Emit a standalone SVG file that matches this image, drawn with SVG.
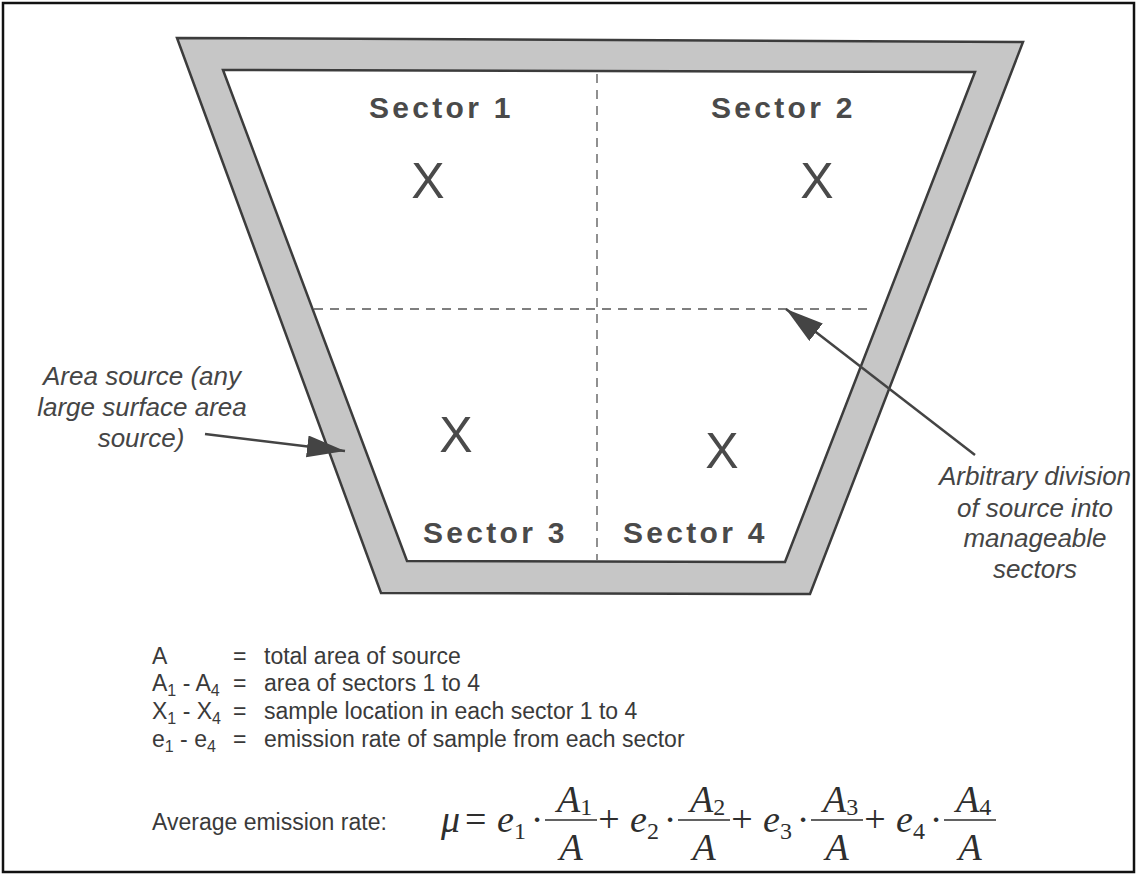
<svg xmlns="http://www.w3.org/2000/svg" width="1138" height="876" viewBox="0 0 1138 876">
<style>
.sec{font-family:"Liberation Sans",Arial,sans-serif;font-weight:bold;font-size:30px;letter-spacing:3.3px;fill:#4a4a4a}
.x{font-family:"Liberation Sans",Arial,sans-serif;font-size:50px;fill:#4a4a4a;text-anchor:middle}
.note{font-family:"Liberation Sans",Arial,sans-serif;font-style:italic;font-size:26px;fill:#454545;text-anchor:middle}
.leg{font-family:"Liberation Sans",Arial,sans-serif;font-size:23px;fill:#3a3a3a}
.sub{font-size:16px}
.m{font-family:"Liberation Serif","Times New Roman",serif;font-size:38px;fill:#2e2e2e}
.mi{font-style:italic}
.dash{stroke:#555;stroke-width:1.3;stroke-dasharray:9 7;fill:none}
.arrow{stroke:#444;stroke-width:2.5;fill:none}
.bar{stroke:#2e2e2e;stroke-width:1.6}
</style>
<defs>
<marker id="head" markerUnits="userSpaceOnUse" markerWidth="40" markerHeight="24" refX="38" refY="11" orient="auto">
<path d="M0,0 L38,11 L0,22 Z" fill="#444"/>
</marker>
</defs>
<rect width="1138" height="876" fill="#fff"/>
<rect id="frame" x="3" y="3" width="1131" height="869" fill="none" stroke="#111" stroke-width="2.5"/>
<g id="source">
<polygon points="177,38 1023,42 810,594 381,593" fill="#c6c6c6" stroke="#3c3c3c" stroke-width="2.5"/>
<polygon points="223,70 975,72 785,562 407,561" fill="#fff" stroke="#3c3c3c" stroke-width="2.5"/>
</g>
<g id="dividers">
<line class="dash" x1="597" y1="74" x2="597" y2="560"/>
<line class="dash" x1="314" y1="309" x2="870" y2="309"/>
</g>
<g id="sector1"><text class="sec" x="369" y="118">Sector 1</text><text class="x" x="428" y="198">X</text></g>
<g id="sector2"><text class="sec" x="711" y="118">Sector 2</text><text class="x" x="817" y="198">X</text></g>
<g id="sector3"><text class="sec" x="423" y="543">Sector 3</text><text class="x" x="456" y="452">X</text></g>
<g id="sector4"><text class="sec" x="623" y="543">Sector 4</text><text class="x" x="722" y="468">X</text></g>
<g id="note-area">
<text class="note" x="142" y="385">Area source (any</text>
<text class="note" x="142" y="416">large surface area</text>
<text class="note" x="141" y="447">source)</text>
</g>
<g id="note-division">
<text class="note" x="1035" y="485">Arbitrary division</text>
<text class="note" x="1035" y="517">of source into</text>
<text class="note" x="1035" y="547">manageable</text>
<text class="note" x="1035" y="578">sectors</text>
</g>
<g id="connectors">
<line class="arrow" x1="205" y1="434" x2="345" y2="451" marker-end="url(#head)"/>
<line class="arrow" x1="975" y1="455" x2="786" y2="309" marker-end="url(#head)"/>
</g>
<g id="legend">
<text class="leg" x="152" y="664">A</text>
<text class="leg" x="233" y="664">=</text>
<text class="leg" x="264" y="664">total area of source</text>
<text class="leg" x="152" y="691">A<tspan class="sub" dy="5">1</tspan><tspan dy="-5"> - A</tspan><tspan class="sub" dy="5">4</tspan></text>
<text class="leg" x="233" y="691">=</text>
<text class="leg" x="264" y="691">area of sectors 1 to 4</text>
<text class="leg" x="152" y="719">X<tspan class="sub" dy="5">1</tspan><tspan dy="-5"> - X</tspan><tspan class="sub" dy="5">4</tspan></text>
<text class="leg" x="233" y="719">=</text>
<text class="leg" x="264" y="719">sample location in each sector 1 to 4</text>
<text class="leg" x="152" y="747">e<tspan class="sub" dy="5">1</tspan><tspan dy="-5"> - e</tspan><tspan class="sub" dy="5">4</tspan></text>
<text class="leg" x="233" y="747">=</text>
<text class="leg" x="264" y="747">emission rate of sample from each sector</text>
<text class="leg" x="152" y="830">Average emission rate:</text>
</g>
<g id="formula">
<text class="m mi" x="441" y="832">μ</text>
<text class="m" x="465" y="832">=</text>
<text class="m mi" x="497" y="832">e<tspan font-style="normal" font-size="24" dy="7">1</tspan></text>
<text class="m" x="537" y="832" text-anchor="middle">·</text>
<line class="bar" x1="545" y1="820" x2="597" y2="820"/>
<text class="m mi" x="557" y="812">A<tspan font-style="normal" font-size="24" dy="3">1</tspan></text>
<text class="m mi" x="571" y="860" text-anchor="middle">A</text>
<text class="m" x="609" y="832" text-anchor="middle">+</text>
<text class="m mi" x="630" y="832">e<tspan font-style="normal" font-size="24" dy="7">2</tspan></text>
<text class="m" x="670" y="832" text-anchor="middle">·</text>
<line class="bar" x1="678" y1="820" x2="730" y2="820"/>
<text class="m mi" x="690" y="812">A<tspan font-style="normal" font-size="24" dy="3">2</tspan></text>
<text class="m mi" x="704" y="860" text-anchor="middle">A</text>
<text class="m" x="742" y="832" text-anchor="middle">+</text>
<text class="m mi" x="763" y="832">e<tspan font-style="normal" font-size="24" dy="7">3</tspan></text>
<text class="m" x="803" y="832" text-anchor="middle">·</text>
<line class="bar" x1="811" y1="820" x2="863" y2="820"/>
<text class="m mi" x="823" y="812">A<tspan font-style="normal" font-size="24" dy="3">3</tspan></text>
<text class="m mi" x="837" y="860" text-anchor="middle">A</text>
<text class="m" x="875" y="832" text-anchor="middle">+</text>
<text class="m mi" x="896" y="832">e<tspan font-style="normal" font-size="24" dy="7">4</tspan></text>
<text class="m" x="936" y="832" text-anchor="middle">·</text>
<line class="bar" x1="944" y1="820" x2="996" y2="820"/>
<text class="m mi" x="956" y="812">A<tspan font-style="normal" font-size="24" dy="3">4</tspan></text>
<text class="m mi" x="970" y="860" text-anchor="middle">A</text>
</g>
</svg>
